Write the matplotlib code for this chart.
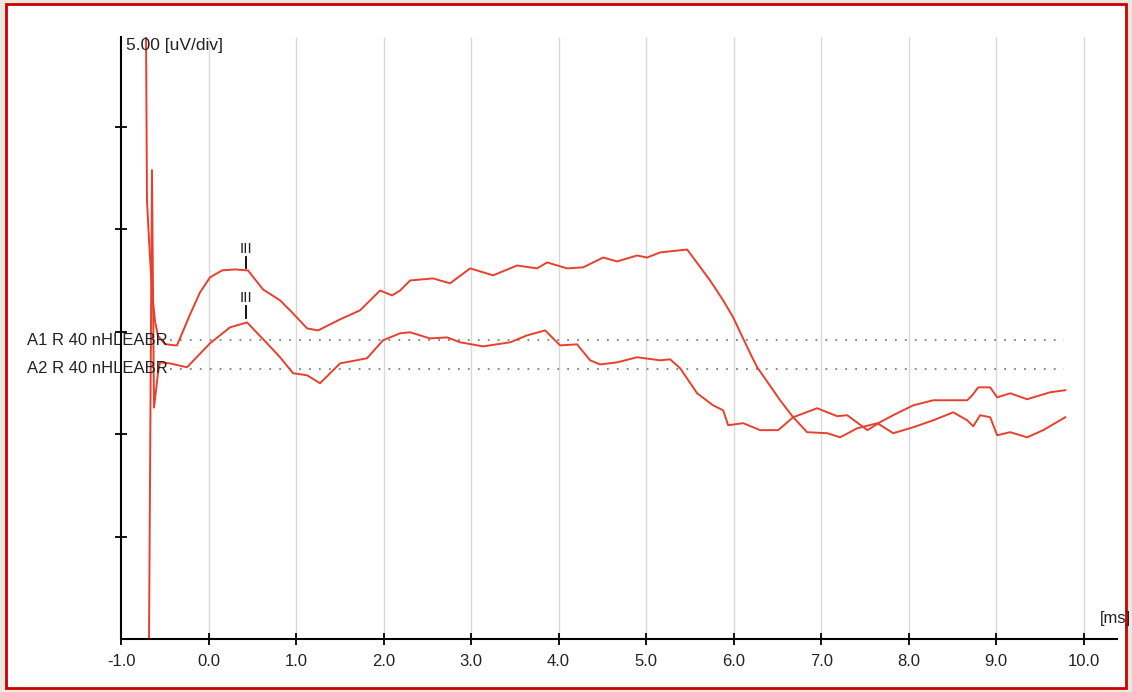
import numpy as np
import matplotlib.pyplot as plt
from matplotlib.patches import Rectangle

# time axis in ms, amplitude in uV (5 uV per division)
a1_t = [-0.714, -0.703, -0.680, -0.646, -0.611, -0.577, -0.497, -0.383, -0.360,
        -0.211, -0.097, 0.017, 0.154, 0.30, 0.451, 0.623, 0.817, 0.966, 1.126,
        1.251, 1.503, 1.731, 1.960, 2.097, 2.189, 2.303, 2.566, 2.760, 2.989,
        3.251, 3.526, 3.754, 3.869, 4.097, 4.280, 4.509, 4.669, 4.897, 5.011,
        5.160, 5.469, 5.731, 5.880, 5.994, 6.189, 6.269, 6.531, 6.680, 6.840,
        7.069, 7.217, 7.411, 7.643, 7.823, 8.051, 8.280, 8.509, 8.669, 8.737,
        8.817, 8.931, 9.011, 9.160, 9.354, 9.537, 9.789]
a1_uv = [29.4, 21.4, 19.5, 17.0, 15.5, 14.8, 14.4, 14.34, 14.34,
         15.85, 16.93, 17.66, 18.0, 18.05, 18.0, 17.07, 16.54, 15.90, 15.17,
         15.07, 15.61, 16.05, 17.02, 16.78, 17.02, 17.51, 17.61, 17.37, 18.10,
         17.76, 18.24, 18.10, 18.39, 18.10, 18.15, 18.63, 18.44, 18.73, 18.63,
         18.88, 19.02, 17.51, 16.54, 15.71, 13.95, 13.27, 11.66, 10.83, 10.10,
         10.05, 9.85, 10.29, 10.54, 10.05, 10.34, 10.68, 11.07, 10.68, 10.39,
         10.93, 10.83, 9.95, 10.10, 9.85, 10.20, 10.83]

a2_t = [-0.690, -0.680, -0.646, -0.623, -0.577, -0.554, -0.440, -0.246, 0.017,
        0.246, 0.440, 0.669, 0.817, 0.966, 1.126, 1.274, 1.503, 1.811, 1.994,
        2.189, 2.303, 2.531, 2.726, 2.874, 3.137, 3.446, 3.640, 3.846, 4.017,
        4.211, 4.360, 4.474, 4.669, 4.897, 5.160, 5.274, 5.389, 5.583, 5.766,
        5.880, 5.937, 6.109, 6.303, 6.509, 6.680, 6.954, 7.183, 7.297, 7.529,
        7.674, 7.823, 8.051, 8.280, 8.509, 8.669, 8.726, 8.794, 8.931, 9.011,
        9.160, 9.354, 9.423, 9.617, 9.789]
a2_uv = [-1.0, 0.0, 22.9, 11.3, 13.0, 13.51, 13.46, 13.27, 14.44,
         15.22, 15.46, 14.44, 13.76, 12.98, 12.88, 12.49, 13.46, 13.71, 14.59,
         14.93, 14.98, 14.68, 14.73, 14.49, 14.29, 14.49, 14.83, 15.07, 14.34,
         14.39, 13.61, 13.41, 13.51, 13.76, 13.61, 13.66, 13.22, 12.0, 11.41,
         11.17, 10.44, 10.54, 10.20, 10.20, 10.83, 11.27, 10.88, 10.93, 10.20,
         10.59, 10.93, 11.41, 11.66, 11.66, 11.66, 11.90, 12.29, 12.29, 11.80,
         12.0, 11.71, 11.80, 12.05, 12.15]

baselines = [14.6, 13.2]
trace_labels = ['A1 R 40 nHLEABR', 'A2 R 40 nHLEABR']
peak_t = [0.43, 0.43]
peak_uv = [18.1, 15.7]
xticks = np.arange(-1, 11)

plt.rcParams['font.family'] = ['Liberation Sans', 'DejaVu Sans']

fig = plt.figure(figsize=(11.32, 6.92), dpi=100)
fig.patch.set_facecolor('#ece8df')
fig.patches.append(Rectangle((6 / 1132, 4 / 692), 1120 / 1132, 684 / 692,
                             transform=fig.transFigure, facecolor='white',
                             edgecolor='#cc0000', lw=2, zorder=-10))

ax = fig.add_axes([121 / 1132, 53 / 692, 996 / 1132, 602 / 692])
ax.set_facecolor('none')
ax.set_xlim(-1.0, 10.38)
ax.set_ylim(0, 29.4)

# grid
ax.vlines(xticks[1:], 0, 29.4, color='#d9d9d9', lw=1, zorder=1)

# baselines
for b in baselines:
    ax.plot([-0.44, 9.77], [b, b], color='#808080', lw=1.3,
            linestyle=(0, (1, 4.5)), zorder=2)

ax.plot(a1_t, a1_uv, color='#e8402c', lw=1.4, zorder=3)
ax.plot(a2_t, a2_uv, color='#e8402c', lw=1.4, zorder=3)

for lab, b in zip(trace_labels, baselines):
    ax.text(-0.47, b, lab, ha='right', va='center', fontsize=12,
            color='#222222', clip_on=False, zorder=4)

# peak III markers
for t, v in zip(peak_t, peak_uv):
    ax.plot([t, t], [v, v + 0.55], color='black', lw=1.3, zorder=4)
    ax.text(t, v + 0.6, 'III', ha='center', va='bottom', fontsize=11,
            color='#222222')

ax.text(-0.94, 28.98, '5.00 [uV/div]', ha='left', va='center', fontsize=12.5,
        color='#222222')
ax.text(10.36, 1.02, '[ms]', ha='center', va='center', fontsize=12,
        color='#222222', clip_on=False)

for s in ['top', 'right']:
    ax.spines[s].set_visible(False)
for s in ['left', 'bottom']:
    ax.spines[s].set_linewidth(1.5)
    ax.spines[s].set_zorder(5)

ax.set_xticks(xticks)
ax.set_xticklabels(['%.1f' % x for x in xticks])
ax.set_yticks([5, 10, 15, 20, 25])
ax.set_yticklabels([])
ax.tick_params(direction='inout', length=8, width=1.3, labelsize=12, pad=7,
               labelcolor='#222222')

fig.savefig('out.png', dpi=100)
